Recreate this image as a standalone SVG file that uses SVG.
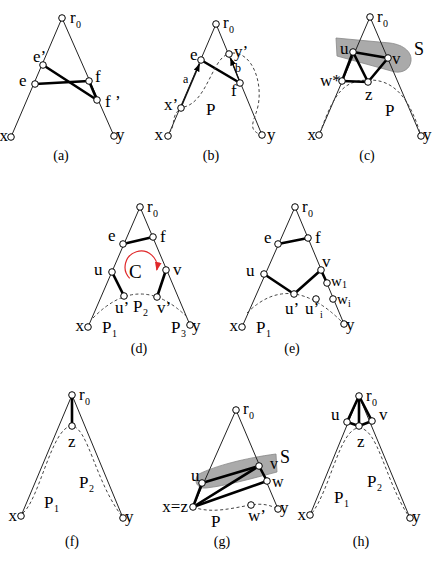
<svg xmlns="http://www.w3.org/2000/svg" width="437" height="561" viewBox="0 0 437 561">
<style>
.t{stroke:#222;stroke-width:1;fill:none}
.k{stroke:#000;stroke-width:2.6;fill:none;stroke-linecap:round}
.d{stroke:#444;stroke-width:1;fill:none;stroke-dasharray:3 2.5}
.m{stroke:#111;stroke-width:1.4;fill:none}
.g{fill:#aaa;stroke:#888;stroke-width:0.8}
circle{fill:#fff;stroke:#000;stroke-width:1}
text{font-family:"Liberation Serif","Times New Roman",serif;font-size:17px;fill:#000}
.s{font-size:10px}
.sm{font-size:12px}
.w{font-size:15px}
.c{font-size:14px;text-anchor:middle}
.e{text-anchor:end}
</style>
<defs>
<marker id="ah" viewBox="0 0 8 6" refX="7.5" refY="3" markerWidth="8" markerHeight="6" markerUnits="userSpaceOnUse" orient="auto"><path d="M0,0 L8,3 L0,6 Z" fill="#000"/></marker>
<marker id="rh" viewBox="0 0 8 6" refX="7" refY="3" markerWidth="9" markerHeight="7" markerUnits="userSpaceOnUse" orient="auto"><path d="M0,0 L8,3 L0,6 Z" fill="#e0282a"/></marker>
</defs>
<g id="shading">
<path class="g" d="M336,38 L390,43 C405,45 412,53 411,61 C410,69 403,73 395,72 L337,56 Z"/>
<path class="g" d="M276,454 L277,472 C250,479 225,486 206,488 C196,489 193,479 199,474 C215,466 245,458 276,454 Z"/>
</g>
<g id="connectors">
<!-- (a) -->
<line class="t" x1="62" y1="18" x2="11" y2="137"/>
<line class="t" x1="62" y1="18" x2="114" y2="136"/>
<line class="k" x1="43" y1="65" x2="97" y2="100"/>
<line class="k" x1="35" y1="84" x2="89" y2="81"/>
<line class="k" x1="89" y1="81" x2="97" y2="100"/>
<!-- (b) -->
<line class="t" x1="216" y1="24" x2="168" y2="136"/>
<line class="t" x1="216" y1="24" x2="262" y2="135"/>
<line class="m" x1="182" y1="105" x2="199.5" y2="64" marker-end="url(#ah)"/>
<line class="m" x1="239" y1="80" x2="230.5" y2="58" marker-end="url(#ah)"/>
<line class="k" x1="201" y1="60" x2="240" y2="83"/>
<path class="d" d="M169,133 C176,126 171,116 179,110"/>
<path class="d" d="M184,107 C206,102 212,62 226,55"/>
<path class="d" d="M232,53 C252,52 263,82 258,106 C255,120 247,128 259,134"/>
<!-- (c) -->
<line class="t" x1="370" y1="17" x2="319" y2="135"/>
<line class="t" x1="370" y1="17" x2="421" y2="136"/>
<path class="d" d="M320,133 C335,90 345,80 370,80 C395,80 410,100 420,133"/>
<line class="k" x1="353" y1="52" x2="388" y2="58"/>
<line class="k" x1="353" y1="52" x2="342" y2="81"/>
<line class="k" x1="353" y1="52" x2="368" y2="82"/>
<line class="k" x1="342" y1="81" x2="368" y2="82"/>
<line class="k" x1="368" y1="82" x2="388" y2="58"/>
<!-- (d) -->
<line class="t" x1="140" y1="207" x2="88" y2="327"/>
<line class="t" x1="140" y1="207" x2="190" y2="325"/>
<path class="d" d="M93,318 Q140,270 188,318"/>
<line class="k" x1="123" y1="244" x2="153" y2="237"/>
<line class="k" x1="112" y1="272" x2="124" y2="296"/>
<line class="k" x1="166" y1="270" x2="157" y2="297"/>
<path d="M129.7,278.3 A16,16 0 1 1 156.8,270" fill="none" stroke="#e0282a" stroke-width="1.2" marker-end="url(#rh)"/>
<!-- (e) -->
<line class="t" x1="295" y1="207" x2="242" y2="327"/>
<line class="t" x1="295" y1="207" x2="344" y2="324"/>
<path class="d" d="M247,313 Q290,270 342,322"/>
<line class="k" x1="278" y1="244" x2="308" y2="238"/>
<line class="k" x1="264" y1="274" x2="294" y2="294"/>
<line class="k" x1="294" y1="294" x2="321" y2="270"/>
<line class="k" x1="321" y1="270" x2="327" y2="283"/>
<!-- (f) -->
<line class="t" x1="72" y1="395" x2="21" y2="516"/>
<line class="t" x1="72" y1="395" x2="123" y2="518"/>
<path class="d" d="M23,513 C40,498 52,426 72,426 C88,428 95,480 121,515"/>
<line class="k" x1="72" y1="395" x2="72" y2="426"/>
<!-- (g) -->
<line class="t" x1="236" y1="410" x2="193" y2="507"/>
<line class="t" x1="236" y1="410" x2="278" y2="509"/>
<path class="d" d="M193,507 C212,514 232,508 251,505 C262,503 270,505 278,509"/>
<line class="k" x1="193" y1="507" x2="202" y2="483"/>
<line class="k" x1="202" y1="483" x2="259" y2="466"/>
<line class="k" x1="193" y1="507" x2="259" y2="466"/>
<line class="k" x1="193" y1="507" x2="267" y2="481"/>
<line class="k" x1="259" y1="466" x2="267" y2="481"/>
<!-- (h) -->
<line class="t" x1="359" y1="396" x2="310" y2="515"/>
<line class="t" x1="359" y1="396" x2="410" y2="518"/>
<path class="d" d="M312,513 C330,490 340,428 359,428 C378,428 385,480 408,515"/>
<line class="k" x1="359" y1="396" x2="347" y2="422"/>
<line class="k" x1="359" y1="396" x2="359" y2="426"/>
<line class="k" x1="359" y1="396" x2="372" y2="421"/>
<line class="k" x1="347" y1="422" x2="359" y2="426"/>
<line class="k" x1="359" y1="426" x2="372" y2="421"/>
</g>
<!-- nodes (a) -->
<g id="a-r0"><circle cx="62" cy="18" r="3.3"/><text x="70" y="23">r</text><text class="s" x="76" y="28">0</text></g>
<g id="a-e1"><circle cx="43" cy="65" r="3.3"/><text x="33" y="62">e’</text></g>
<g id="a-e"><circle cx="35" cy="84" r="3.3"/><text x="19" y="86">e</text></g>
<g id="a-f"><circle cx="89" cy="81" r="3.3"/><text x="95" y="82">f</text></g>
<g id="a-f1"><circle cx="97" cy="100" r="3.3"/><text x="105" y="107">f ’</text></g>
<g id="a-x"><circle cx="11" cy="137" r="3.3"/><text class="e" x="8" y="141">x</text></g>
<g id="a-y"><circle cx="114" cy="136" r="3.3"/><text x="116" y="140">y</text></g>
<!-- (b) -->
<g id="b-r0"><circle cx="216" cy="24" r="3.3"/><text x="223" y="28">r</text><text class="s" x="229" y="33">0</text></g>
<g id="b-e"><circle cx="201" cy="60" r="3.3"/><text x="190" y="60">e</text></g>
<g id="b-y1"><circle cx="229" cy="54" r="3.3"/><text x="234" y="57">y’</text></g>
<g id="b-f"><circle cx="240" cy="83" r="3.3"/><text x="231" y="96">f</text></g>
<g id="b-x1"><circle cx="181" cy="108" r="3.3"/><text x="164" y="110">x’</text></g>
<g id="b-x"><circle cx="168" cy="136" r="3.3"/><text class="e" x="163" y="140">x</text></g>
<g id="b-y"><circle cx="262" cy="135" r="3.3"/><text x="267" y="140">y</text></g>
<g id="b-labels"><text class="sm" x="183" y="83">a</text><text class="sm" x="235" y="72">b</text><text x="206" y="115">P</text></g>
<!-- (c) -->
<g id="c-r0"><circle cx="370" cy="17" r="3.3"/><text x="377" y="22">r</text><text class="s" x="383" y="27">0</text></g>
<g id="c-u"><circle cx="353" cy="52" r="3.3"/><text x="340" y="54">u</text></g>
<g id="c-v"><circle cx="388" cy="58" r="3.3"/><text x="392" y="64">v</text></g>
<g id="c-w"><circle cx="342" cy="81" r="3.3"/><text x="320" y="86">w*</text></g>
<g id="c-z"><circle cx="368" cy="82" r="3.3"/><text x="365" y="100">z</text></g>
<g id="c-x"><circle cx="319" cy="135" r="3.3"/><text class="e" x="316" y="140">x</text></g>
<g id="c-y"><circle cx="421" cy="136" r="3.3"/><text x="423" y="140">y</text></g>
<g id="c-labels"><text x="414" y="55" style="font-size:18px">S</text><text x="385" y="116">P</text></g>
<!-- (d) -->
<g id="d-r0"><circle cx="140" cy="207" r="3.3"/><text x="147" y="212">r</text><text class="s" x="153" y="217">0</text></g>
<g id="d-e"><circle cx="123" cy="244" r="3.3"/><text x="108" y="241">e</text></g>
<g id="d-f"><circle cx="153" cy="237" r="3.3"/><text x="160" y="242">f</text></g>
<g id="d-u"><circle cx="112" cy="272" r="3.3"/><text x="94" y="275">u</text></g>
<g id="d-v"><circle cx="166" cy="270" r="3.3"/><text x="173" y="275">v</text></g>
<g id="d-u1"><circle cx="124" cy="296" r="3.3"/><text x="115" y="313">u’</text></g>
<g id="d-v1"><circle cx="157" cy="297" r="3.3"/><text x="157" y="313">v’</text></g>
<g id="d-x"><circle cx="88" cy="327" r="3.3"/><text class="e" x="84" y="331">x</text></g>
<g id="d-y"><circle cx="190" cy="325" r="3.3"/><text x="192" y="331">y</text></g>
<g id="d-labels"><text x="129" y="278" style="font-size:19px">C</text><text x="102" y="333">P</text><text class="s" x="112" y="337">1</text><text x="133" y="312">P</text><text class="s" x="143" y="316">2</text><text x="171" y="333">P</text><text class="s" x="181" y="337">3</text></g>
<!-- (e) -->
<g id="e-r0"><circle cx="295" cy="207" r="3.3"/><text x="302" y="212">r</text><text class="s" x="308" y="217">0</text></g>
<g id="e-e"><circle cx="278" cy="244" r="3.3"/><text x="264" y="243">e</text></g>
<g id="e-f"><circle cx="308" cy="238" r="3.3"/><text x="315" y="243">f</text></g>
<g id="e-u"><circle cx="264" cy="274" r="3.3"/><text x="246" y="276">u</text></g>
<g id="e-v"><circle cx="321" cy="270" r="3.3"/><text x="322" y="267">v</text></g>
<g id="e-w1"><circle cx="327" cy="283" r="3.3"/><text class="w" x="331" y="286">w</text><text class="s" x="342" y="288">1</text></g>
<g id="e-wi"><circle cx="333" cy="299" r="3.3"/><text class="w" x="337" y="304">w</text><text class="s" x="348" y="307">i</text></g>
<g id="e-u1"><circle cx="294" cy="294" r="3.3"/><text x="285" y="314">u’</text></g>
<g id="e-ui"><circle cx="316" cy="299" r="3.3"/><text x="305" y="314">u’</text><text class="s" x="320" y="318">i</text></g>
<g id="e-x"><circle cx="242" cy="327" r="3.3"/><text class="e" x="238" y="331">x</text></g>
<g id="e-y"><circle cx="344" cy="324" r="3.3"/><text x="346" y="330">y</text></g>
<g id="e-labels"><text x="256" y="333">P</text><text class="s" x="266" y="337">1</text></g>
<!-- (f) -->
<g id="f-r0"><circle cx="72" cy="395" r="3.3"/><text x="79" y="400">r</text><text class="s" x="85" y="405">0</text></g>
<g id="f-z"><circle cx="72" cy="426" r="3.3"/><text x="68" y="447">z</text></g>
<g id="f-x"><circle cx="21" cy="516" r="3.3"/><text class="e" x="17" y="521">x</text></g>
<g id="f-y"><circle cx="123" cy="518" r="3.3"/><text x="125" y="522">y</text></g>
<g id="f-labels"><text x="44" y="508">P</text><text class="s" x="54" y="512">1</text><text x="79" y="488">P</text><text class="s" x="89" y="492">2</text></g>
<!-- (g) -->
<g id="g-r0"><circle cx="236" cy="410" r="3.3"/><text x="243" y="414">r</text><text class="s" x="249" y="419">0</text></g>
<g id="g-u"><circle cx="202" cy="483" r="3.3"/><text x="191" y="481">u</text></g>
<g id="g-v"><circle cx="259" cy="466" r="3.3"/><text x="270" y="469" style="font-size:16px">v</text></g>
<g id="g-w"><circle cx="267" cy="481" r="3.3"/><text x="272" y="487" style="font-size:16px">w</text></g>
<g id="g-xz"><circle cx="193" cy="507" r="3.3"/><text class="e" x="188" y="512">x=z</text></g>
<g id="g-w1"><circle cx="251" cy="505" r="3.3"/><text x="248" y="521">w’</text></g>
<g id="g-y"><circle cx="278" cy="509" r="3.3"/><text x="280" y="513">y</text></g>
<g id="g-labels"><text x="280" y="463" style="font-size:18px">S</text><text x="211" y="527">P</text></g>
<!-- (h) -->
<g id="h-r0"><circle cx="359" cy="396" r="3.3"/><text x="366" y="401">r</text><text class="s" x="372" y="406">0</text></g>
<g id="h-u"><circle cx="347" cy="422" r="3.3"/><text x="331" y="420">u</text></g>
<g id="h-z"><circle cx="359" cy="426" r="3.3"/><text x="357" y="447">z</text></g>
<g id="h-v"><circle cx="372" cy="421" r="3.3"/><text x="379" y="420">v</text></g>
<g id="h-x"><circle cx="310" cy="515" r="3.3"/><text class="e" x="306" y="520">x</text></g>
<g id="h-y"><circle cx="410" cy="518" r="3.3"/><text x="412" y="522">y</text></g>
<g id="h-labels"><text x="334" y="503">P</text><text class="s" x="344" y="507">1</text><text x="367" y="487">P</text><text class="s" x="377" y="491">2</text></g>
<g id="captions">
<text class="c" x="61" y="160">(a)</text>
<text class="c" x="211" y="160">(b)</text>
<text class="c" x="367" y="160">(c)</text>
<text class="c" x="139" y="353">(d)</text>
<text class="c" x="292" y="353">(e)</text>
<text class="c" x="72" y="546">(f)</text>
<text class="c" x="222" y="546">(g)</text>
<text class="c" x="361" y="546">(h)</text>
</g>
</svg>
